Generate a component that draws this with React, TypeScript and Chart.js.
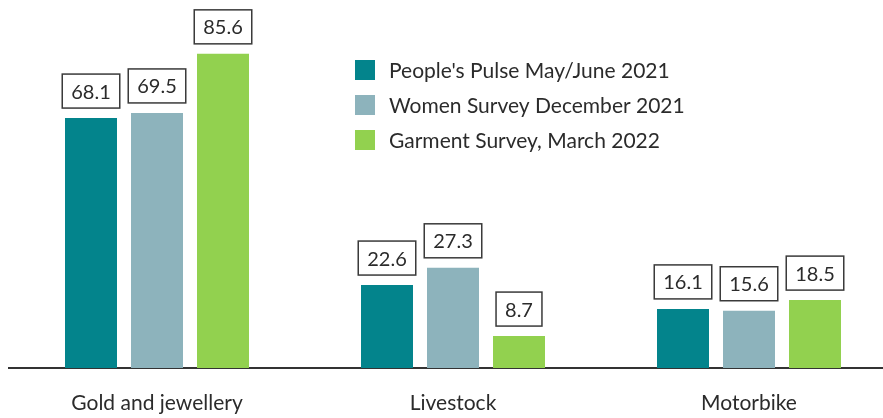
import React, { useEffect, useRef } from "react";
import { Chart, registerables } from "chart.js";

Chart.register(...registerables);

const categories = ["Gold and jewellery", "Livestock", "Motorbike"];
const seriesNames = [
  "People's Pulse May/June 2021",
  "Women Survey December 2021",
  "Garment Survey, March 2022",
];
const peoplesPulse = [68.1, 22.6, 16.1];
const womenSurvey = [69.5, 27.3, 15.6];
const garmentSurvey = [85.6, 8.7, 18.5];
const seriesColors = ["#03848C", "#8DB3BC", "#92D14F"];

const FONT = "Lato, 'Noto Sans', sans-serif";
const TEXT = "#2b2b2b";

const valueBoxPlugin = {
  id: "valueBoxes",
  afterDatasetsDraw(chart: any) {
    const ctx = chart.ctx;
    ctx.save();
    ctx.font = `20px ${FONT}`;
    ctx.textAlign = "center";
    ctx.textBaseline = "middle";
    chart.data.datasets.forEach((ds: any, di: number) => {
      const meta = chart.getDatasetMeta(di);
      meta.data.forEach((el: any, i: number) => {
        const txt = Number(ds.data[i]).toFixed(1);
        const w = ctx.measureText(txt).width + 18;
        const h = 34;
        const bottom = el.y - 10;
        const top = bottom - h;
        ctx.fillStyle = "#ffffff";
        ctx.fillRect(el.x - w / 2, top, w, h);
        ctx.strokeStyle = "#3a3a3a";
        ctx.lineWidth = 1.5;
        ctx.strokeRect(el.x - w / 2, top, w, h);
        ctx.fillStyle = TEXT;
        ctx.fillText(txt, el.x, top + h / 2 + 1);
      });
    });
    ctx.restore();
  },
};

const legendPlugin = {
  id: "floatLegend",
  afterDraw(chart: any) {
    const ctx = chart.ctx;
    ctx.save();
    ctx.font = `21px ${FONT}`;
    ctx.textAlign = "left";
    ctx.textBaseline = "middle";
    chart.data.datasets.forEach((ds: any, i: number) => {
      const cy = 70 + i * 35;
      ctx.fillStyle = ds.backgroundColor;
      ctx.fillRect(355, cy - 10, 20, 20);
      ctx.fillStyle = TEXT;
      ctx.fillText(ds.label, 389, cy + 1);
    });
    ctx.restore();
  },
};

export default function App() {
  const ref = useRef<HTMLCanvasElement | null>(null);
  useEffect(() => {
    if (!ref.current) return;
    const datasets = [peoplesPulse, womenSurvey, garmentSurvey].map((d, i) => ({
      label: seriesNames[i],
      data: d,
      backgroundColor: seriesColors[i],
      barPercentage: 52 / 66,
      categoryPercentage: 198 / 296,
    }));
    const chart = new Chart(ref.current, {
      type: "bar",
      data: { labels: categories, datasets },
      plugins: [valueBoxPlugin, legendPlugin],
      options: {
        animation: false,
        responsive: false,
        maintainAspectRatio: false,
        layout: { padding: { left: 9, right: 3, top: 1, bottom: 0 } },
        plugins: { legend: { display: false }, tooltip: { enabled: false } },
        scales: {
          x: {
            grid: { display: false, drawTicks: false },
            border: { display: true, color: "#333333", width: 2 },
            ticks: {
              color: TEXT,
              font: { family: FONT, size: 21 },
              padding: 23,
            },
            afterFit: (scale: any) => {
              scale.height = 50;
            },
          },
          y: {
            display: false,
            min: 0,
            max: 100,
          },
        },
      },
    });
    return () => chart.destroy();
  }, []);
  return (
    <div
      style={{
        position: "fixed",
        left: 0,
        top: 0,
        width: 883,
        height: 418,
        overflow: "hidden",
        background: "#fff",
      }}
    >
      <canvas ref={ref} width={900} height={418} style={{ width: 900, height: 418, display: "block" }} />
    </div>
  );
}
